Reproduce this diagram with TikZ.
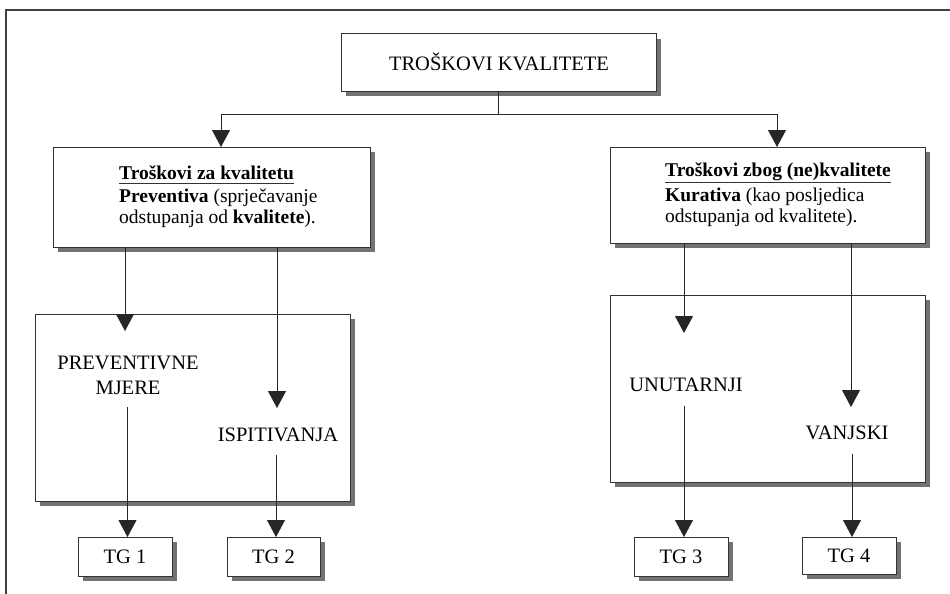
\documentclass[tikz,border=0pt]{standalone}
\usepackage{fontspec}
\setmainfont{Liberation Serif}
\usetikzlibrary{arrows.meta,shadows}
\begin{document}
\begin{tikzpicture}[x=1pt,y=-1pt,
  box/.style={draw=black!80, line width=1pt, fill=white, inner sep=0pt, outer sep=0pt,
    drop shadow={shadow xshift=5pt, shadow yshift=-5pt, fill=black!55, opacity=1}},
  conn/.style={draw=black!85, line width=0.8pt},
  arr/.style={conn, -{Triangle[width=18pt,length=17pt]}},
  caps/.style={font=\fontsize{20.5}{25}\selectfont, align=center, inner sep=0pt},
  headtxt/.style={font=\bfseries\fontsize{19.5}{20.5}\selectfont, inner sep=0pt, anchor=base west},
  bodytxt/.style={font=\fontsize{19.5}{20.5}\selectfont, inner sep=0pt, anchor=base west},
]
\useasboundingbox (0,0) rectangle (950,594);
\fill[white] (0,0) rectangle (950,594);
% outer frame
\draw[line width=1.6pt, black!75] (6,594) -- (6,10) -- (950,10);

% top box
\node[box, minimum width=315pt, minimum height=57pt] (top) at (498.5,62.5) {};
\node[font=\fontsize{20.5}{22}\selectfont, inner sep=0pt, anchor=base] (toptext) at (499,70.5) {TROŠKOVI KVALITETE};

% middle boxes
\node[box, minimum width=317pt, minimum height=100pt] (lmid) at (211.5,197) {};
\node[headtxt] (lhead) at (119,179) {Troškovi za kvalitetu};
\node[bodytxt] (lb1) at (119,202) {\textbf{Preventiva} (sprječavanje};
\node[bodytxt] (lb2) at (119,223) {odstupanja od \textbf{kvalitete}).};
\draw[line width=0.8pt, black!80] ([yshift=-4pt]lhead.base west) -- ([yshift=-4pt]lhead.base east);

\node[box, minimum width=315pt, minimum height=96pt] (rmid) at (767.5,195) {};
\node[headtxt] (rhead) at (665,176) {Troškovi zbog (ne)kvalitete};
\node[bodytxt] (rb1) at (665,201) {\textbf{Kurativa} (kao posljedica};
\node[bodytxt] (rb2) at (665,222) {odstupanja od kvalitete).};
\draw[line width=0.8pt, black!80] ([yshift=-6pt]rhead.base west) -- ([yshift=-6pt]rhead.base east);

% big boxes
\node[box, minimum width=315pt, minimum height=187pt] (lbig) at (192.5,407.5) {};
\node[box, minimum width=315pt, minimum height=187pt] (rbig) at (767.5,388.5) {};

\node[caps] (prev) at (128,375.5) {PREVENTIVNE\\MJERE};
\node[caps] (isp) at (278,435) {ISPITIVANJA};
\node[caps] (unu) at (686,385) {UNUTARNJI};
\node[caps] (vanj) at (847,433) {VANJSKI};

% TG boxes
\node[box, minimum width=94pt, minimum height=39pt, font=\fontsize{20.5}{22}\selectfont] (tg1) at (125,556.5) {TG 1};
\node[box, minimum width=93pt, minimum height=39pt, font=\fontsize{20.5}{22}\selectfont] (tg2) at (273.5,556.5) {TG 2};
\node[box, minimum width=94pt, minimum height=39pt, font=\fontsize{20.5}{22}\selectfont] (tg3) at (681,556.5) {TG 3};
\node[box, minimum width=94pt, minimum height=37pt, font=\fontsize{20.5}{22}\selectfont] (tg4) at (849,555.5) {TG 4};

% connectors
\coordinate (aL) at (221,114);
\coordinate (aR) at (777,114);
\draw[conn] (top.south) -- (top.south |- aL);
\draw[arr] (top.south |- aL) -- (aL) -- (aL |- lmid.north);
\draw[arr] (top.south |- aR) -- (aR) -- (aR |- rmid.north);

\coordinate (t1) at (125,331);
\coordinate (t2) at (277,408);
\coordinate (t3) at (684,333);
\coordinate (t4) at (851,407);
\draw[arr] (t1 |- lmid.south) -- (t1);
\draw[arr] (t2 |- lmid.south) -- (t2);
\draw[arr] (t3 |- rmid.south) -- (t3);
\draw[arr] (t4 |- rmid.south) -- (t4);

\coordinate (s1) at (127.5,407);
\coordinate (s2) at (276,455);
\coordinate (s3) at (684,406);
\coordinate (s4) at (852,454);
\draw[arr] (s1) -- (s1 |- tg1.north);
\draw[arr] (s2) -- (s2 |- tg2.north);
\draw[arr] (s3) -- (s3 |- tg3.north);
\draw[arr] (s4) -- (s4 |- tg4.north);
\end{tikzpicture}
\end{document}
